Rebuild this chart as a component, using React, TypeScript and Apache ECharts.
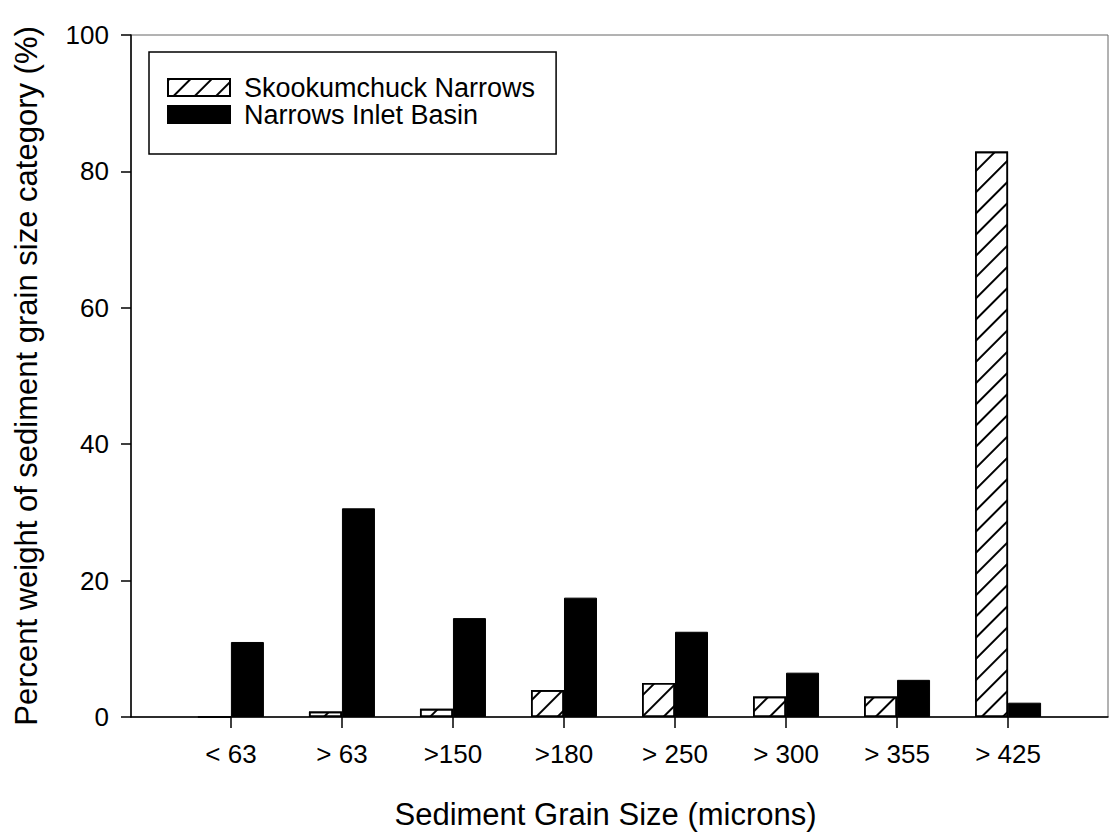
import React, { useEffect, useRef } from "react";
import * as echarts from "echarts";

const categories = ["< 63", "> 63", ">150", ">180", "> 250", "> 300", "> 355", "> 425"];
const positions = [1, 2, 3, 4, 5, 6, 7, 8];
const skookumchuck = [0, 0.8, 1.2, 3.95, 5.0, 3.0, 3.0, 82.9];
const narrowsInlet = [11, 30.6, 14.5, 17.5, 12.5, 6.5, 5.45, 2.1];
const yTicks = [0, 20, 40, 60, 80, 100];

const FONT = 'Arial, "Liberation Sans", sans-serif';

export default function App() {
  const ref = useRef<HTMLDivElement>(null);
  useEffect(() => {
    if (!ref.current) return;
    const chart = echarts.init(ref.current, null, { renderer: "svg" });
    const hatch = {
      symbol: "rect",
      symbolSize: 1,
      dashArrayX: [1, 0],
      dashArrayY: [1.8, 12.4],
      rotation: -Math.PI / 4,
      color: "#000",
      backgroundColor: "#fff",
    };
    chart.setOption({
      animation: false,
      backgroundColor: "#fff",
      textStyle: { fontFamily: FONT },
      grid: {
        left: 131,
        right: 3,
        top: 35,
        bottom: 116,
        show: true,
        borderColor: "#666",
        borderWidth: 1,
      },
      legend: {
        left: 149,
        top: 52,
        orient: "vertical",
        icon: "rect",
        backgroundColor: "#fff",
        borderColor: "#000",
        borderWidth: 1.5,
        padding: [22, 21, 26, 18],
        itemWidth: 62,
        itemHeight: 17,
        itemGap: 0,
        textStyle: {
          fontSize: 27,
          color: "#000",
          fontFamily: FONT,
          lineHeight: 26,
          padding: [0, 0, 0, 9],
        },
        data: ["Skookumchuck Narrows", "Narrows Inlet Basin"],
      },
      xAxis: {
        type: "value",
        min: 0.1,
        max: 8.9,
        name: "Sediment Grain Size (microns)",
        nameLocation: "middle",
        nameGap: 82,
        nameTextStyle: { fontSize: 31, color: "#000", fontFamily: FONT, padding: [0, 28, 0, 0] },
        axisLine: { show: true, onZero: false, lineStyle: { color: "#000", width: 1.5 } },
        axisTick: {
          show: true,
          inside: false,
          length: 11,
          customValues: positions,
          lineStyle: { color: "#000", width: 1.5 },
        },
        axisLabel: {
          customValues: positions,
          margin: 24,
          fontSize: 26,
          color: "#000",
          fontFamily: FONT,
          formatter: (v: number) => categories[Math.round(v) - 1] ?? "",
        },
        splitLine: { show: false },
      },
      yAxis: {
        type: "value",
        min: 0,
        max: 100,
        interval: 20,
        name: "Percent weight of sediment grain size category (%)",
        nameLocation: "middle",
        nameGap: 89,
        nameTextStyle: { fontSize: 31, color: "#000", fontFamily: FONT },
        axisLine: { show: true, lineStyle: { color: "#000", width: 1.5 } },
        axisTick: { show: true, inside: false, length: 10, lineStyle: { color: "#000", width: 1.5 } },
        axisLabel: {
          margin: 22,
          fontSize: 26,
          color: "#000",
          fontFamily: FONT,
          customValues: yTicks,
        },
        splitLine: { show: false },
      },
      series: [
        {
          name: "Skookumchuck Narrows",
          type: "bar",
          barWidth: 33,
          barGap: "0%",
          data: positions.map((p, i) => [p, skookumchuck[i]]),
          itemStyle: { color: "#fff", borderColor: "#000", borderWidth: 1.6, decal: hatch },
        },
        {
          name: "Narrows Inlet Basin",
          type: "bar",
          barWidth: 33,
          barGap: "0%",
          data: positions.map((p, i) => [p, narrowsInlet[i]]),
          itemStyle: { color: "#000", borderColor: "#000", borderWidth: 1 },
        },
      ],
    });
    return () => chart.dispose();
  }, []);
  return <div ref={ref} style={{ width: 1111, height: 835, position: "absolute", left: 0, top: 0 }} />;
}
